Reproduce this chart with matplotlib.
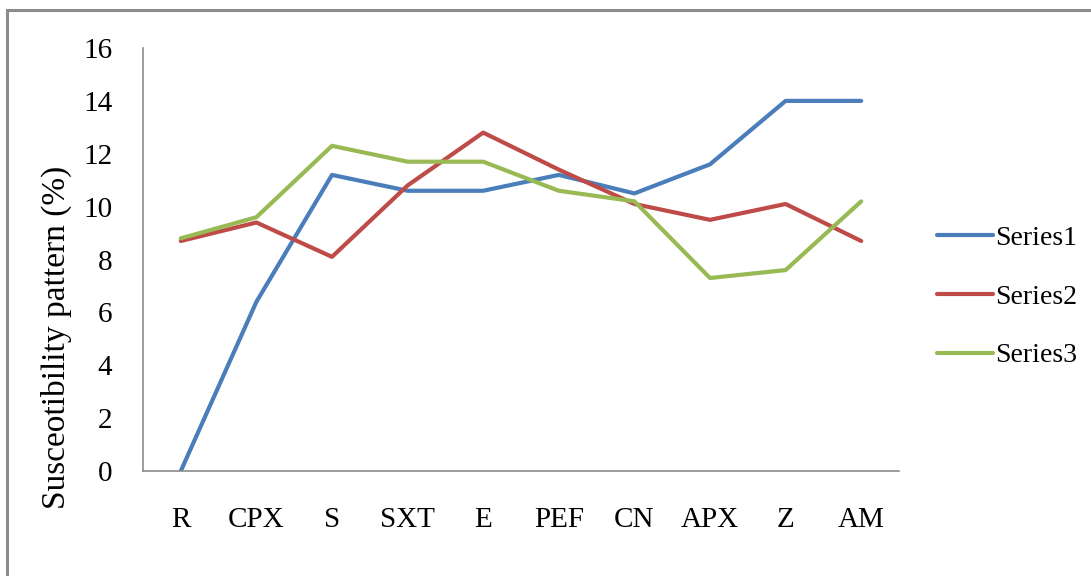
import matplotlib.pyplot as plt
from matplotlib.lines import Line2D

# antibiotic codes on the x axis
drugs = ['R', 'CPX', 'S', 'SXT', 'E', 'PEF', 'CN', 'APX', 'Z', 'AM']

series1 = [0.0, 6.4, 11.2, 10.6, 10.6, 11.2, 10.5, 11.6, 14.0, 14.0]
series2 = [8.7, 9.4, 8.1, 10.8, 12.8, 11.4, 10.1, 9.5, 10.1, 8.7]
series3 = [8.8, 9.6, 12.3, 11.7, 11.7, 10.6, 10.2, 7.3, 7.6, 10.2]

names = ['Series1', 'Series2', 'Series3']
colors = ['#4A7EBB', '#BE4B48', '#98B954']

plt.rcParams['font.family'] = ['Liberation Serif', 'DejaVu Serif']

W, H = 1091, 576
fig = plt.figure(figsize=(W / 100, H / 100), dpi=100)

# outer frame (only top and left edges fall inside the image)
fig.add_artist(Line2D([7 / W, 7 / W], [0, 1 - 10 / H],
                      transform=fig.transFigure, color='#8c8c8c', lw=2.2))
fig.add_artist(Line2D([7 / W, 1], [1 - 10 / H, 1 - 10 / H],
                      transform=fig.transFigure, color='#8c8c8c', lw=2.2))

ax = fig.add_axes([143 / W, 1 - 471 / H, 756 / W, 423 / H])

x = range(len(drugs))
for vals, name, c in zip([series1, series2, series3], names, colors):
    ax.plot(x, vals, color=c, lw=3.0, label=name, solid_capstyle='round',
            solid_joinstyle='round')

ax.set_xlim(-0.5, len(drugs) - 0.5)
ax.set_ylim(0, 16)
ax.set_yticks(range(0, 17, 2))
ax.set_xticks(list(x))
ax.set_xticklabels(drugs)
ax.tick_params(axis='both', length=0, labelsize=21)
ax.tick_params(axis='x', pad=26)
ax.tick_params(axis='y', pad=22)

for side in ['top', 'right']:
    ax.spines[side].set_visible(False)
for side in ['left', 'bottom']:
    ax.spines[side].set_color('#8c8c8c')
    ax.spines[side].set_linewidth(1.2)

ax.set_ylabel('Susceotibility pattern (%)', fontsize=24)
ax.yaxis.set_label_coords((72 - 143) / 756, (471 - 337) / 423)

fig.legend(handles=ax.get_lines(), labels=names, loc='center left',
           bbox_to_anchor=(937 / W, 1 - 297 / H), bbox_transform=fig.transFigure,
           frameon=False, fontsize=20, handlelength=2.0, handletextpad=0.1,
           labelspacing=1.2, borderpad=0, borderaxespad=0)

fig.savefig('out.png', dpi=100)
